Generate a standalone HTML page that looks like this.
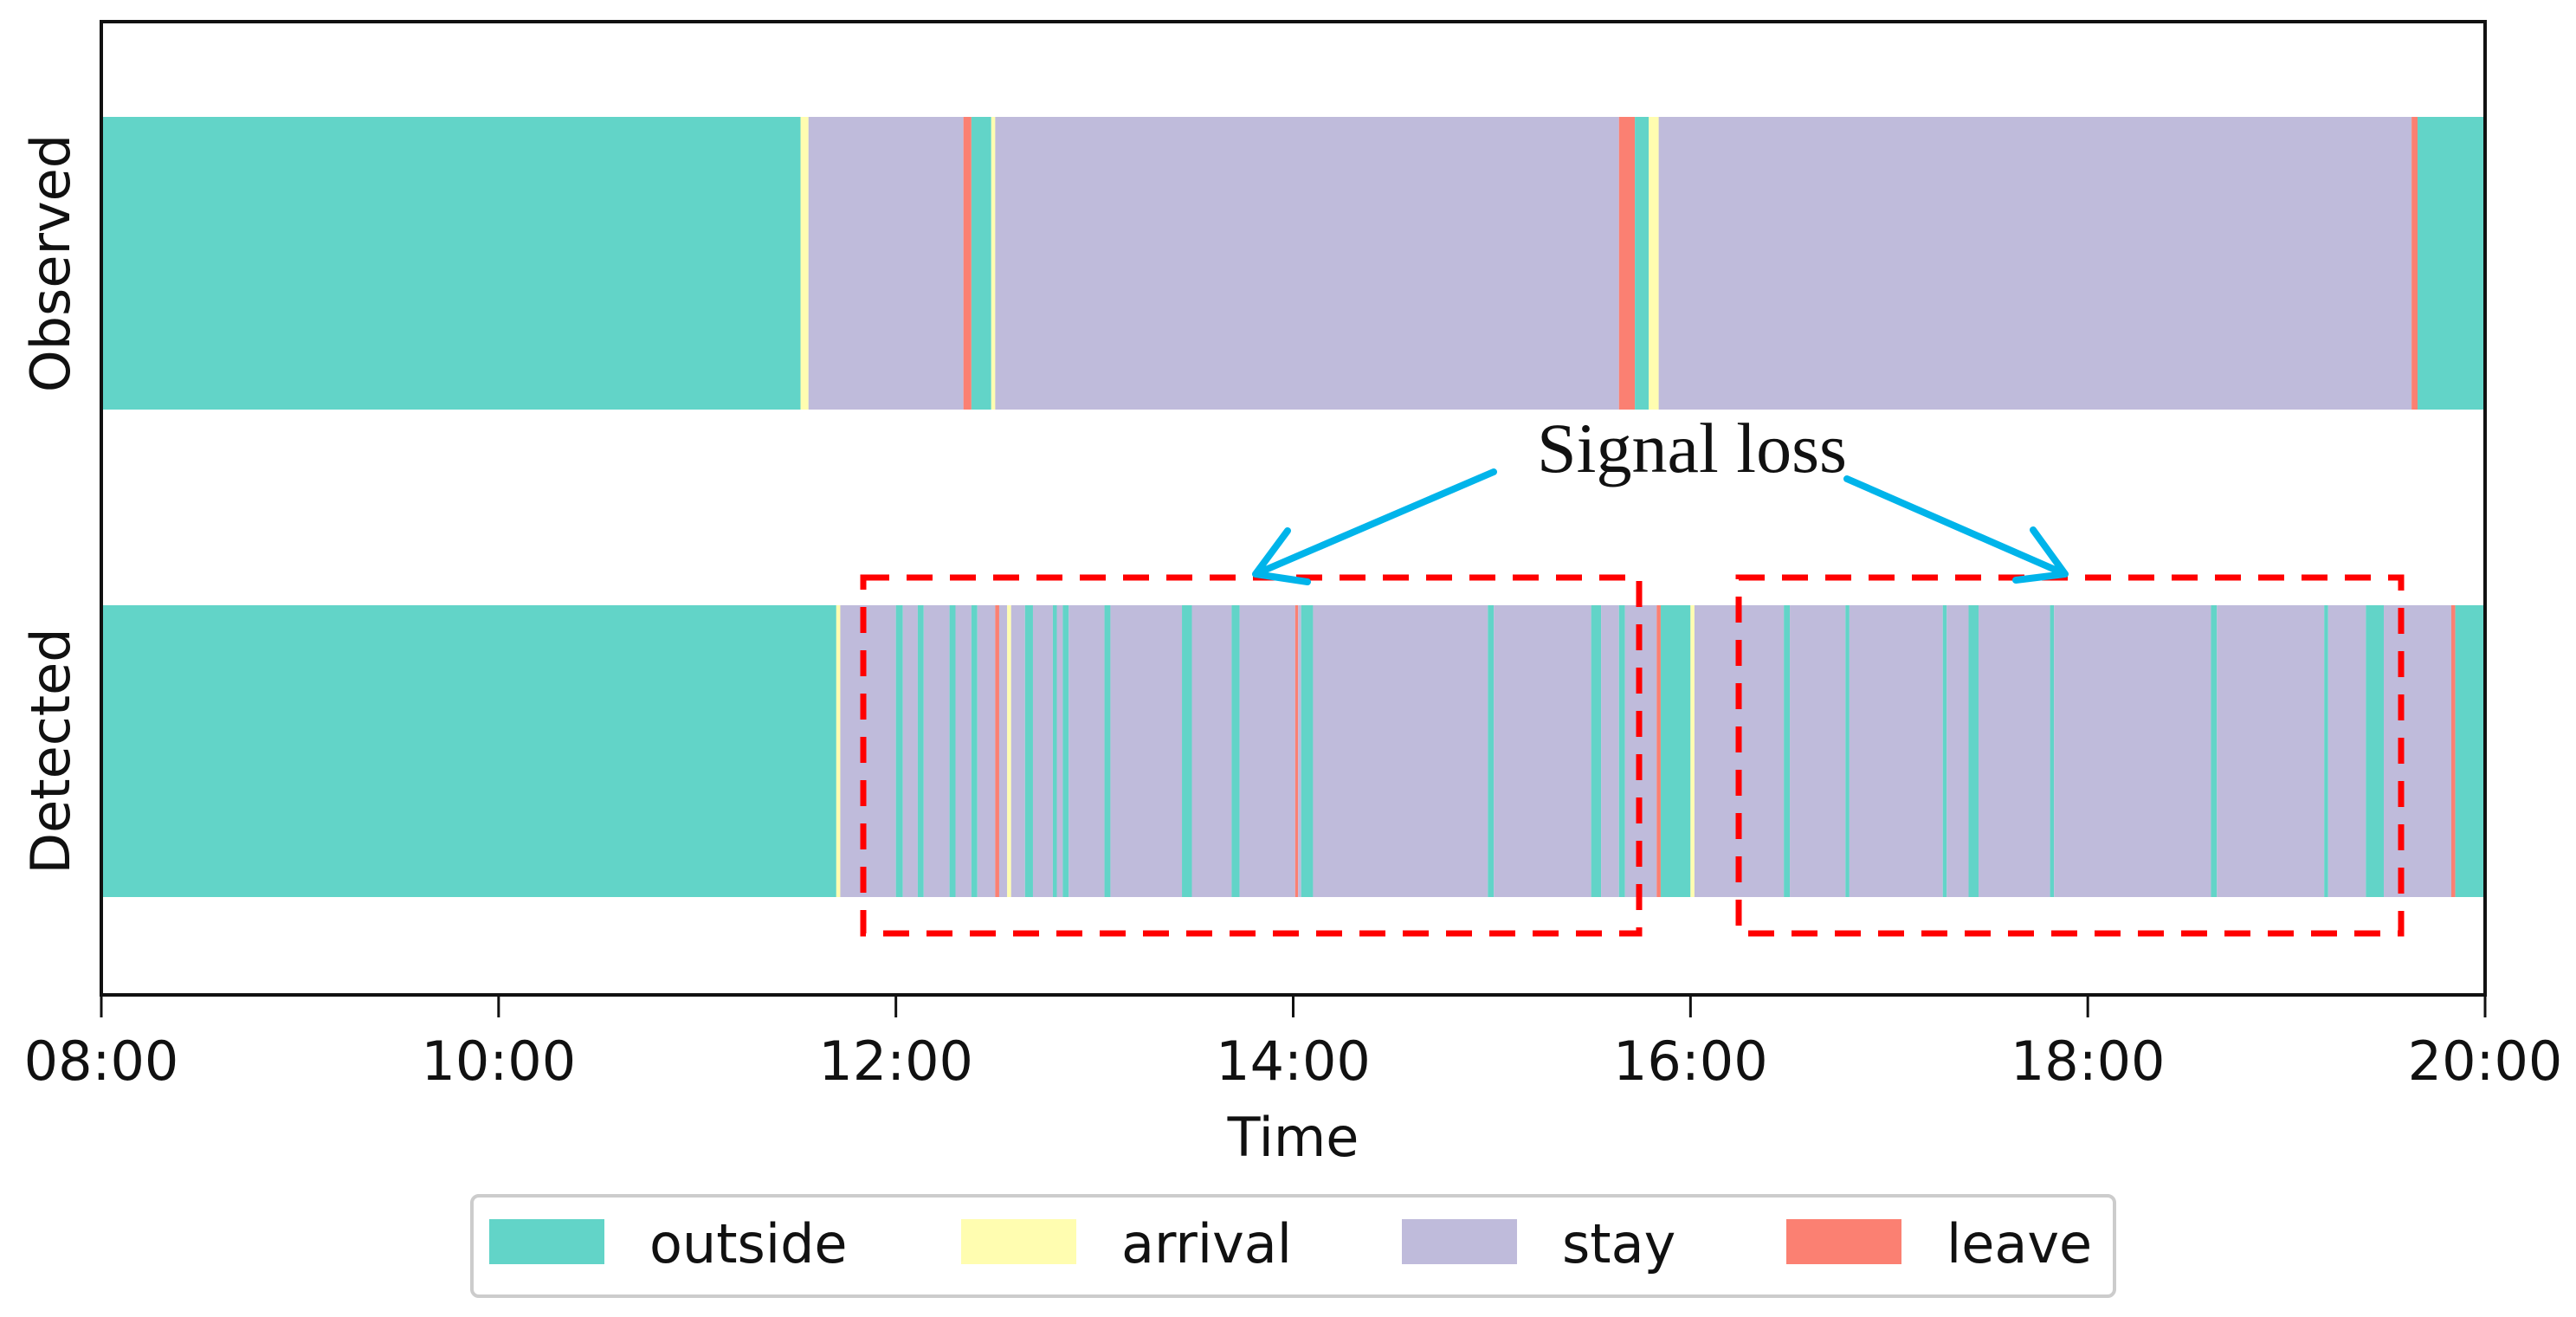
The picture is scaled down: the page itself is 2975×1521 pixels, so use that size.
<!DOCTYPE html>
<html><head><meta charset="utf-8"><style>
html,body{margin:0;padding:0;background:#fff;}
svg{display:block;font-family:"DejaVu Sans","Liberation Sans",sans-serif;}
</style></head><body>
<svg id="chart" width="2975" height="1521" viewBox="0 0 2975 1521" xmlns="http://www.w3.org/2000/svg">
<g id="bars"></g>
<g id="axes"></g>
<g id="annot"></g>
<g id="legend"></g>
</svg>
<script>
const tickLabels = ["08:00","10:00","12:00","14:00","16:00","18:00","20:00"];
const tickValues = [8,10,12,14,16,18,20];
const stateNames = ["outside","arrival","stay","leave"];
const stateColors = ["#62d4c8","#fffdb0","#bfbbdb","#fb8072"];
const rowNames = ["Observed","Detected"];
const obsBreaks = [8,11.52,11.56,12.34,12.38,12.48,12.50,15.64,15.72,15.79,15.84,19.63,19.66,20];
const obsStates = [0,1,2,3,0,1,2,3,0,1,2,3,0];
const detBreaks = [8,11.70,11.72,12.00,12.035,12.11,12.14,12.27,12.30,12.38,12.41,12.50,12.52,12.56,12.58,12.65,12.69,12.79,12.81,12.84,12.87,13.05,13.08,13.44,13.49,13.69,13.73,14.01,14.025,14.04,14.10,14.98,15.01,15.50,15.55,15.64,15.67,15.83,15.85,16.00,16.02,16.47,16.50,16.78,16.80,17.27,17.29,17.40,17.45,17.81,17.83,18.62,18.65,19.19,19.21,19.40,19.49,19.83,19.85,20];
const detStates = [0,1,2,0,2,0,2,0,2,0,2,3,2,1,2,0,2,0,2,0,2,0,2,0,2,0,2,3,2,0,2,0,2,0,2,0,2,3,0,1,2,0,2,0,2,0,2,0,2,0,2,0,2,0,2,0,2,3,0];

const NS="http://www.w3.org/2000/svg";
const X0=117,X1=2870,Y0=25,Y1=1149,T0=8,T1=20;
const xs=t=>X0+(t-T0)/(T1-T0)*(X1-X0);
const rowBand=[[135,473],[699,1036]];
function mk(tag,attrs,parent){const e=document.createElementNS(NS,tag);for(const k in attrs)e.setAttribute(k,attrs[k]);parent.appendChild(e);return e;}
const bars=document.getElementById('bars');
function drawRow(breaks,states,ri){
  for(let i=0;i<states.length;i++){
    const x=xs(breaks[i]),w=xs(breaks[i+1])-x;
    const r=mk('rect',{x:x,y:rowBand[ri][0],width:Math.max(w,1.5),height:rowBand[ri][1]-rowBand[ri][0],fill:stateColors[states[i]]},bars);
    
    
  }
}
drawRow(obsBreaks,obsStates,0);
drawRow(detBreaks,detStates,1);

const axes=document.getElementById('axes');
const frame=mk('rect',{x:X0,y:Y0,width:X1-X0,height:Y1-Y0,fill:'none',stroke:'#111','stroke-width':4},axes);


tickValues.forEach((v,i)=>{
  const x=xs(v);
  const tk=mk('line',{x1:x,y1:Y1,x2:x,y2:Y1+26,stroke:'#111','stroke-width':3},axes);
  
  
  const tl=mk('text',{x:x,y:1247,'font-size':62,'text-anchor':'middle',fill:'#111'},axes);
  tl.textContent=tickLabels[i];
  
  
});
const xt=mk('text',{x:(X0+X1)/2,y:1335,'font-size':62,'text-anchor':'middle',fill:'#111'},axes);
xt.textContent='Time';


rowNames.forEach((n,i)=>{
  const cy=(rowBand[i][0]+rowBand[i][1])/2;
  const t=mk('text',{x:0,y:0,'font-size':62,'text-anchor':'middle',fill:'#111',transform:`translate(80,${cy}) rotate(-90)`},axes);
  t.textContent=n;
  
  
});

const an=document.getElementById('annot');
[[997,667,1893,1078],[2008,667,2773,1078]].forEach(b=>{
  const r=mk('rect',{x:b[0],y:b[1],width:b[2]-b[0],height:b[3]-b[1],fill:'none',stroke:'#ff0000','stroke-width':7,'stroke-dasharray':'30 20'},an);
  
  
});
const st=mk('text',{x:1954,y:545,'font-size':82,'text-anchor':'middle',fill:'#111','font-family':'"Liberation Serif",serif',textLength:358,lengthAdjust:'spacingAndGlyphs'},an);
st.textContent='Signal loss';


[[1725,545,1450,663,1487,613,1510,672],[2133,553,2385,663,2348,612,2328,670]].forEach(a=>{
  const p=mk('path',{d:`M${a[0]},${a[1]} L${a[2]},${a[3]} M${a[4]},${a[5]} L${a[2]},${a[3]} L${a[6]},${a[7]}`,fill:'none',stroke:'#00b4ea','stroke-width':8,'stroke-linecap':'round','stroke-linejoin':'round'},an);
  
  
});

const lg=document.getElementById('legend');
const lb=mk('rect',{x:545,y:1381,width:1897,height:116,rx:8,fill:'#fff',stroke:'#cccccc','stroke-width':4},lg);


const patchX=[565,1110,1619,2063];
stateNames.forEach((n,i)=>{
  const p=mk('rect',{x:patchX[i],y:1408,width:133,height:52,fill:stateColors[i]},lg);
  
  
  const t=mk('text',{x:patchX[i]+185,y:1458,'font-size':62,fill:'#111'},lg);
  t.textContent=n;
  
  
});
</script>
</body></html>
